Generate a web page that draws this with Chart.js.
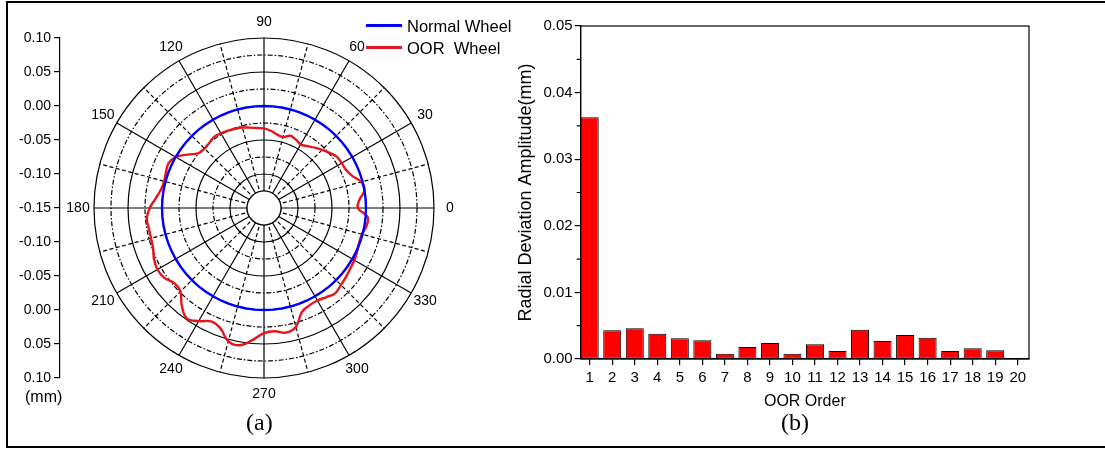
<!DOCTYPE html>
<html>
<head>
<meta charset="utf-8">
<script src="https://cdn.jsdelivr.net/npm/chart.js@4.4.0/dist/chart.umd.min.js"></script>
<style>
  body { margin: 0; background: #fff; width: 1105px; height: 449px; overflow: hidden; position: relative;
         font-family: "Liberation Sans", Arial, sans-serif; color: #000; }
  .frame { position: absolute; left: 6px; top: 1px; width: 1200px; height: 443px; border: 2px solid #000; }
  canvas { position: absolute; top: 0; }
  .txt { position: absolute; white-space: pre; line-height: 1; }
  .sw { position: absolute; height: 3px; width: 36px; }
  .cap { position: absolute; font-family: "Liberation Serif", "Times New Roman", serif; font-size: 24px; line-height: 1; }
</style>
</head>
<body>
<div class="frame"></div>
<canvas id="polar" width="520" height="449" style="left:0"></canvas>
<canvas id="axis" width="70" height="449" style="left:0"></canvas>
<canvas id="bars" width="599" height="449" style="left:506px"></canvas>

<div class="sw" style="left:366px; top:24px; background:#0000ff"></div>
<div class="txt" style="left:407px; top:18px; font-size:16.5px">Normal Wheel</div>
<div class="sw" style="left:366px; top:46px; background:#e8141b"></div>
<div class="txt" style="left:407px; top:40px; font-size:16.5px">OOR  Wheel</div>
<div class="txt" style="left:25px; top:389px; font-size:16px">(mm)</div>
<div class="cap" style="left:246px; top:410px">(a)</div>
<div class="cap" style="left:781px; top:410px">(b)</div>

<script>
// polar plot (a): radial deviation in mm, sampled every 5 degrees
const angleDeg = [0, 5, 10, 15, 20, 25, 30, 35, 40, 45, 50, 55, 60, 65, 70, 75, 80, 85,
  90, 95, 100, 105, 110, 115, 120, 125, 130, 135, 140, 145, 150, 155, 160, 165, 170, 175,
  180, 185, 190, 195, 200, 205, 210, 215, 220, 225, 230, 235, 240, 245, 250, 255, 260, 265,
  270, 275, 280, 285, 290, 295, 300, 305, 310, 315, 320, 325, 330, 335, 340, 345, 350, 355];
const normalWheel = [0, 0, 0, 0, 0, 0, 0, 0, 0, 0, 0, 0, 0, 0, 0, 0, 0, 0,
  0, 0, 0, 0, 0, 0, 0, 0, 0, 0, 0, 0, 0, 0, 0, 0, 0, 0,
  0, 0, 0, 0, 0, 0, 0, 0, 0, 0, 0, 0, 0, 0, 0, 0, 0, 0,
  0, 0, 0, 0, 0, 0, 0, 0, 0, 0, 0, 0, 0, 0, 0, 0, 0, 0];
const oorWheel = [-0.012, -0.009, 0.000, -0.002, -0.012, -0.017, -0.018, -0.019, -0.024, -0.029,
  -0.034, -0.039, -0.042, -0.039, -0.037, -0.042, -0.040, -0.036, -0.033, -0.032,
  -0.030, -0.0275, -0.026, -0.0245, -0.0233, -0.0222, -0.025, -0.0265, -0.0245, -0.013,
  0.000, 0.005, 0.0035, 0.002, 0.004, 0.010, 0.018, 0.023, 0.022, 0.022,
  0.0235, 0.0285, 0.031, 0.029, 0.022, 0.024, 0.038, 0.048, 0.042, 0.034,
  0.038, 0.053, 0.055, 0.045, 0.034, 0.032, 0.036, 0.031, 0.013, 0.008,
  0.007, 0.010, 0.0135, 0.010, 0.0075, 0.005, 0.0035, 0.001, -0.001, -0.001,
  0.003, 0.003];
const angleLabels = [0, 30, 60, 90, 120, 150, 180, 210, 240, 270, 300, 330];
const ringValues = [-0.15, -0.125, -0.10, -0.075, -0.05, -0.025, 0.00, 0.025, 0.05, 0.075, 0.10];
const leftTickLabels = ['0.10', '0.05', '0.00', '-0.05', '-0.10', '-0.15', '-0.10', '-0.05', '0.00', '0.05', '0.10'];

// spectrum (b)
const oorOrder = [1, 2, 3, 4, 5, 6, 7, 8, 9, 10, 11, 12, 13, 14, 15, 16, 17, 18, 19, 20];
const oorAmplitude = [0.0363, 0.0043, 0.0046, 0.0038, 0.0031, 0.0028, 0.0008, 0.0018, 0.0024, 0.0008,
  0.0022, 0.0012, 0.0044, 0.0027, 0.0036, 0.0032, 0.0012, 0.0016, 0.0013, 0.0001];
const ampTicks = [0, 0.01, 0.02, 0.03, 0.04, 0.05];
const ampMinorTicks = [0.005, 0.015, 0.025, 0.035, 0.045];

Chart.defaults.font.family = '"Liberation Sans", Arial, sans-serif';
Chart.defaults.color = '#000';

// radar goes clockwise, the plot goes counter-clockwise from 0 at the right
const n = angleDeg.length;
const cw = angleDeg.map((a, i) => (n - i) % n);
const spokeAngle = i => angleDeg[cw[i]];

const hub = {
  id: 'hub',
  beforeDatasetsDraw(chart) {
    const r = chart.scales.r, ctx = chart.ctx;
    const rad = r.getDistanceFromCenterForValue(-0.125);
    ctx.save();
    ctx.beginPath();
    ctx.arc(r.xCenter, r.yCenter, rad, 0, Math.PI * 2);
    ctx.fillStyle = '#fff';
    ctx.fill();
    ctx.lineWidth = 1.2;
    ctx.strokeStyle = '#000';
    ctx.stroke();
    ctx.restore();
  }
};

const angleText = {
  id: 'angleText',
  afterDraw(chart) {
    const r = chart.scales.r, ctx = chart.ctx;
    ctx.save();
    ctx.font = '14px "Liberation Sans", Arial, sans-serif';
    ctx.fillStyle = '#000';
    ctx.textAlign = 'center';
    ctx.textBaseline = 'middle';
    angleLabels.forEach(a => {
      const idx = cw.indexOf(angleDeg.indexOf(a));
      const p = r.getPointPosition(idx, r.drawingArea + 16);
      ctx.fillText(String(a), p.x, p.y);
    });
    ctx.restore();
  }
};

new Chart(document.getElementById('polar'), {
  type: 'radar',
  data: {
    labels: cw.map(i => angleDeg[i]),
    datasets: [
      { label: 'Normal Wheel', data: cw.map(i => normalWheel[i]), borderColor: '#0000ff',
        borderWidth: 2.4, pointRadius: 0, fill: false, tension: 0 },
      { label: 'OOR  Wheel', data: cw.map(i => oorWheel[i]), borderColor: '#e8141b',
        borderWidth: 2.4, pointRadius: 0, fill: false, tension: 0.4 }
    ]
  },
  options: {
    responsive: false,
    animation: false,
    layout: { padding: { left: 94, top: 38, right: 86, bottom: 71 } },
    plugins: { legend: { display: false }, tooltip: { enabled: false } },
    scales: {
      r: {
        min: -0.15,
        max: 0.10,
        startAngle: 90,
        afterBuildTicks: s => { s.ticks = ringValues.map(v => ({ value: v })); },
        ticks: { display: false },
        pointLabels: { display: false },
        grid: { circular: true, color: '#000', lineWidth: 1.2 },
        border: { dash: c => (c.index > 1 && c.index % 2 === 1) ? [5, 2, 1.5, 2] : [] },
        angleLines: {
          color: '#000',
          lineWidth: c => spokeAngle(c.index) % 15 === 0 ? 1.2 : 0,
          borderDash: c => spokeAngle(c.index) % 30 === 0 ? [] : [4, 2.5]
        }
      }
    }
  },
  plugins: [hub, angleText]
});

// left value axis of the polar plot
new Chart(document.getElementById('axis'), {
  type: 'scatter',
  data: { datasets: [] },
  options: {
    responsive: false,
    animation: false,
    layout: { padding: { left: 0, right: 0, top: 38, bottom: 71 } },
    plugins: { legend: { display: false }, tooltip: { enabled: false } },
    scales: {
      x: { display: false },
      y: {
        min: 0, max: 10, reverse: true,
        afterFit: s => { s.width = 60; },
        afterBuildTicks: s => { s.ticks = leftTickLabels.map((t, i) => ({ value: i })); },
        ticks: { callback: (v, i) => leftTickLabels[i], font: { size: 14 }, padding: 3 },
        grid: { drawOnChartArea: false, tickLength: 6, color: '#000', lineWidth: 1.2 },
        border: { color: '#000', width: 1.2 }
      }
    }
  }
});

const frameBox = {
  id: 'frameBox',
  afterDraw(chart) {
    const a = chart.chartArea, ctx = chart.ctx, y = chart.scales.y;
    ctx.save();
    ctx.strokeStyle = '#000';
    ctx.lineWidth = 1.2;
    ctx.strokeRect(a.left, a.top, a.right - a.left, a.bottom - a.top);
    ctx.beginPath();
    ampMinorTicks.forEach(v => {
      const py = y.getPixelForValue(v);
      ctx.moveTo(a.left - 4, py);
      ctx.lineTo(a.left, py);
    });
    ctx.stroke();
    ctx.restore();
  }
};

new Chart(document.getElementById('bars'), {
  type: 'bar',
  data: {
    datasets: [{
      data: oorOrder.map((o, i) => ({ x: o, y: oorAmplitude[i] })),
      backgroundColor: '#ff0000',
      borderColor: '#000',
      borderWidth: 1,
      borderSkipped: false,
      barPercentage: 0.8,
      categoryPercentage: 1
    }]
  },
  options: {
    responsive: false,
    animation: false,
    layout: { padding: { left: 5, top: 26, right: 76, bottom: 34 } },
    plugins: { legend: { display: false }, tooltip: { enabled: false } },
    scales: {
      x: {
        type: 'linear', min: 0.6, max: 20.5, offset: false,
        afterBuildTicks: s => { s.ticks = oorOrder.map(v => ({ value: v })); },
        afterFit: s => { s.height = 56; },
        ticks: { font: { size: 15 }, padding: 4, maxRotation: 0, autoSkip: false },
        grid: { offset: false, drawOnChartArea: false, tickLength: 6, color: '#000', lineWidth: 1.2 },
        border: { color: '#000', width: 1.2 },
        title: { display: true, text: 'OOR Order', font: { size: 16 }, color: '#000' }
      },
      y: {
        min: 0, max: 0.05,
        afterBuildTicks: s => { s.ticks = ampTicks.map(v => ({ value: v })); },
        afterFit: s => { s.width = 69.7; },
        ticks: { callback: v => v.toFixed(2), font: { size: 15 }, padding: 2 },
        grid: { drawOnChartArea: false, tickLength: 6, color: '#000', lineWidth: 1.2 },
        border: { color: '#000', width: 1.2 },
        title: { display: true, text: 'Radial Deviation Amplitude(mm)', font: { size: 18 }, color: '#000' }
      }
    }
  },
  plugins: [frameBox]
});
</script>
</body>
</html>
